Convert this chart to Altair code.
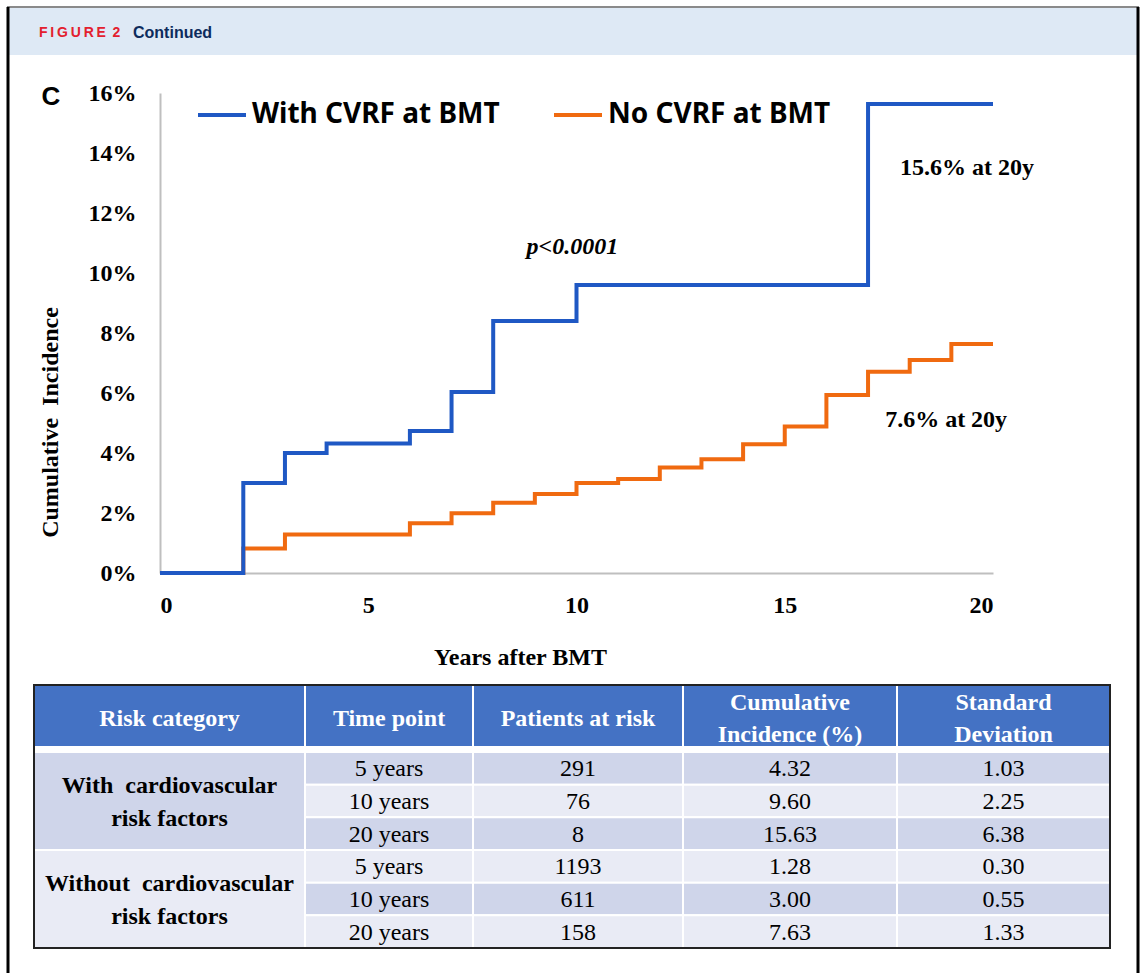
import altair as alt
import pandas as pd

# ---- cumulative incidence (%) by years after BMT; each value holds until the next year listed ----
with_years = [0, 2, 3, 4, 6, 7, 8, 10, 17, 20]
with_pct = [0.0, 3.00, 4.00, 4.32, 4.73, 6.03, 8.40, 9.60, 15.63, 15.63]
without_years = [0, 2, 3, 6, 7, 8, 9, 10, 11, 12, 13, 14, 15, 16, 17, 18, 19, 20]
without_pct = [0.0, 0.82, 1.28, 1.66, 1.99, 2.34, 2.63, 3.00, 3.13, 3.52, 3.79,
               4.29, 4.88, 5.93, 6.71, 7.10, 7.63, 7.63]
series_names = ["With CVRF at BMT", "No CVRF at BMT"]
series_colors = ["#1f58c4", "#f06a10"]
x_ticks = [0, 5, 10, 15, 20]
y_ticks = [0, 2, 4, 6, 8, 10, 12, 14, 16]
p_value_text = "p<0.0001"

# ---- summary table (non-breaking spaces keep the wider word gaps) ----
NB = "\u00a0"
header_labels = ["Risk category", "Time point", "Patients at risk",
                 "Cumulative\nIncidence (%)", "Standard\nDeviation"]
group_labels = [f"With{NB} cardiovascular\nrisk factors",
                f"Without{NB} cardiovascular\nrisk factors"]
time_labels = ["5 years", "10 years", "20 years"]
patients = ["291", "76", "8", "1193", "611", "158"]
incidence = ["4.32", "9.60", "15.63", "1.28", "3.00", "7.63"]
std_dev = ["1.03", "2.25", "6.38", "0.30", "0.55", "1.33"]

# ---- layout (pixels) ----
PAGE_W, PAGE_H = 1142, 973
PLOT_L, PLOT_T, PLOT_W, PLOT_H = 160, 93, 833, 480
COL_EDGES = [34, 305, 473, 683, 897, 1110]
HEAD_TOP, HEAD_BOT, BODY_TOP, BODY_BOT = 685, 747, 752, 948
ROW_H = (BODY_BOT - BODY_TOP) / 6
LINE_H = 32

SERIF = "Liberation Serif"
SANS = "Liberation Sans"
DARK_ROW, LIGHT_ROW, HEAD_BLUE = "#cfd5ea", "#e9ebf5", "#4472c4"

page_x = alt.Scale(domain=[0, PAGE_W], range=[-PLOT_L, PAGE_W - PLOT_L])
page_y = alt.Scale(domain=[0, PAGE_H], range=[-PLOT_T, PAGE_H - PLOT_T])


def px(field):
    return alt.X(f"{field}:Q", scale=page_x, axis=None)


def py(field):
    return alt.Y(f"{field}:Q", scale=page_y, axis=None)


def rect_layer(rows):
    df = pd.DataFrame(rows, columns=["x0", "x1", "y0", "y1", "fill", "stroke", "sw"])
    return alt.Chart(df).mark_rect().encode(
        x=px("x0"), x2="x1", y=py("y0"), y2="y1",
        fill=alt.Fill("fill:N", scale=None),
        stroke=alt.Stroke("stroke:N", scale=None),
        strokeWidth=alt.StrokeWidth("sw:Q", scale=None),
    )


def text_layer(rows, **mark):
    df = pd.DataFrame(rows, columns=["x", "y", "text"])
    return alt.Chart(df).mark_text(lineBreak="\n", **mark).encode(
        x=px("x"), y=py("y"), text="text:N"
    )


def first_line_y(center, label):
    # multi-line text grows downward from its first line, so lift it by half the extra lines
    n = label.count("\n") + 1
    return center - (n - 1) * LINE_H / 2


# page header band and frame
header_band = rect_layer([(7, 1139, 8, 55, "#dee9f5", "#dee9f5", 0)])
frame_df = pd.DataFrame([
    (7, 1139, 7, 7, "#8a8a8a", 2),
    (8, 8, 7, PAGE_H, "#000000", 3),
    (1138, 1138, 7, PAGE_H, "#000000", 3),
], columns=["x0", "x1", "y0", "y1", "color", "sw"])
frame = alt.Chart(frame_df).mark_rule().encode(
    x=px("x0"), x2="x1", y=py("y0"), y2="y1",
    color=alt.Color("color:N", scale=None),
    strokeWidth=alt.StrokeWidth("sw:Q", scale=None),
)
TS = "\u2009"
fig_label = text_layer([(39, 33, TS.join("FIGURE") + TS + " 2")],
                       font=SANS, fontSize=14, fontWeight="bold", color="#e3202e",
                       align="left", baseline="middle")
cont_label = text_layer([(133, 33, "Continued")], font=SANS, fontSize=16,
                        fontWeight="bold", color="#0d2b5c", align="left", baseline="middle")
panel_label = text_layer([(51, 97, "C")], font=SANS, fontSize=26, fontWeight="bold",
                         color="black", align="center", baseline="middle")

# table cells
head_cells = [(COL_EDGES[i], COL_EDGES[i + 1], HEAD_TOP, HEAD_BOT, HEAD_BLUE, "white", 2)
              for i in range(5)]
body_cells = []
for r in range(6):
    y0, y1 = BODY_TOP + r * ROW_H, BODY_TOP + (r + 1) * ROW_H
    fill = DARK_ROW if r % 2 == 0 else LIGHT_ROW
    for c in range(1, 5):
        body_cells.append((COL_EDGES[c], COL_EDGES[c + 1], y0, y1, fill, "white", 2))
for g in range(2):
    body_cells.append((COL_EDGES[0], COL_EDGES[1], BODY_TOP + 3 * g * ROW_H,
                       BODY_TOP + 3 * (g + 1) * ROW_H, DARK_ROW if g == 0 else LIGHT_ROW,
                       "white", 2))
gap_mask = rect_layer([(COL_EDGES[0], COL_EDGES[-1], HEAD_BOT, BODY_TOP, "white", "white", 0)])
outer = rect_layer([(COL_EDGES[0], COL_EDGES[-1], HEAD_TOP, BODY_BOT, "transparent", "#222222", 2)])

col_mid = [(COL_EDGES[i] + COL_EDGES[i + 1]) / 2 for i in range(5)]
head_text = text_layer([(col_mid[i], first_line_y(719, header_labels[i]), header_labels[i])
                        for i in range(5)],
                       font=SERIF, fontSize=24, fontWeight="bold", color="white",
                       align="center", baseline="middle", lineHeight=LINE_H)
body_rows = []
for r in range(6):
    yc = BODY_TOP + (r + 0.5) * ROW_H + 1
    body_rows += [(col_mid[1], yc, time_labels[r % 3]), (col_mid[2], yc, patients[r]),
                  (col_mid[3], yc, incidence[r]), (col_mid[4], yc, std_dev[r])]
body_text = text_layer(body_rows, font=SERIF, fontSize=24, color="black",
                       align="center", baseline="middle")
group_text = text_layer([(col_mid[0],
                          first_line_y(BODY_TOP + (3 * g + 1.5) * ROW_H + 1, group_labels[g]),
                          group_labels[g]) for g in range(2)],
                        font=SERIF, fontSize=24, fontWeight="bold", color="black",
                        align="center", baseline="middle", lineHeight=LINE_H + 1)

page = alt.layer(header_band, fig_label, cont_label, panel_label,
                 rect_layer(head_cells), head_text, gap_mask, rect_layer(body_cells),
                 body_text, group_text, outer, frame)

# ---- curves ----
km_df = pd.concat([
    pd.DataFrame({"series": series_names[0], "year": with_years, "pct": with_pct}),
    pd.DataFrame({"series": series_names[1], "year": without_years, "pct": without_pct}),
])

x_enc = alt.X("year:Q", scale=alt.Scale(domain=[0, 20]), axis=alt.Axis(
    values=x_ticks, format="d", title="Years after BMT", grid=False, ticks=False, tickSize=0,
    domainColor="#bfbfbf", domainWidth=2, labelFont=SERIF, labelFontSize=24,
    labelFontWeight="bold", labelColor="black", labelPadding=20,
    titleFont=SERIF, titleFontSize=24, titleFontWeight="bold", titleColor="black",
    titleX=360, titleY=84, titleAlign="center", titleBaseline="middle"))
y_enc = alt.Y("pct:Q", scale=alt.Scale(domain=[0, 16]), axis=alt.Axis(
    values=y_ticks, labelExpr="datum.value + '%'", title=f"Cumulative{NB} Incidence",
    grid=False, ticks=False, tickSize=0, domainColor="#bfbfbf", domainWidth=2,
    labelFont=SERIF, labelFontSize=24, labelFontWeight="bold", labelColor="black",
    labelPadding=24, titleFont=SERIF, titleFontSize=24, titleFontWeight="bold",
    titleColor="black", titleAngle=270, titleX=-110, titleY=329,
    titleAlign="center", titleBaseline="middle"))
color_enc = alt.Color("series:N", scale=alt.Scale(domain=series_names, range=series_colors),
                      legend=alt.Legend(
                          title=None, orient="none", legendX=36, legendY=-4,
                          direction="horizontal", columns=2, symbolType="stroke",
                          symbolSize=2304, symbolStrokeWidth=4, labelFont="Noto Sans",
                          labelFontSize=28, labelFontWeight="bold", labelColor="black",
                          labelOffset=4, columnPadding=46, padding=0, labelLimit=0))

curve_no = alt.Chart(km_df).transform_filter(
    alt.datum.series == series_names[1]
).mark_line(interpolate="step-after", strokeWidth=4, strokeJoin="miter").encode(
    x=x_enc, y=y_enc, color=color_enc)
curve_with = alt.Chart(km_df).transform_filter(
    alt.datum.series == series_names[0]
).mark_line(interpolate="step-after", strokeWidth=4, strokeJoin="miter").encode(
    x=x_enc, y=y_enc, color=color_enc)

end_notes = pd.DataFrame({
    "year": [17.77, 17.41],
    "pct": [13.5, 5.1],
    "text": [f"{with_pct[-1]:.1f}% at 20y", f"{without_pct[-1]:.1f}% at 20y"],
})
notes = alt.Chart(end_notes).mark_text(
    font=SERIF, fontSize=24, fontWeight="bold", color="black", align="left", baseline="middle"
).encode(x="year:Q", y="pct:Q", text="text:N")
p_note = alt.Chart(pd.DataFrame({"year": [9.9], "pct": [10.87], "text": [p_value_text]})).mark_text(
    font=SERIF, fontSize=24, fontWeight="bold", fontStyle="italic", color="black",
    align="center", baseline="middle"
).encode(x="year:Q", y="pct:Q", text="text:N")

km = alt.layer(curve_no, curve_with, notes, p_note)

chart = alt.layer(page, km).resolve_scale(x="independent", y="independent").properties(
    width=PLOT_W, height=PLOT_H,
    padding={"left": PLOT_L, "top": PLOT_T, "right": PAGE_W - PLOT_L - PLOT_W,
             "bottom": PAGE_H - PLOT_T - PLOT_H},
    autosize="none", background="white",
).configure_view(stroke=None)

chart.save("out.html", embed_options={"renderer": "svg", "actions": False})
